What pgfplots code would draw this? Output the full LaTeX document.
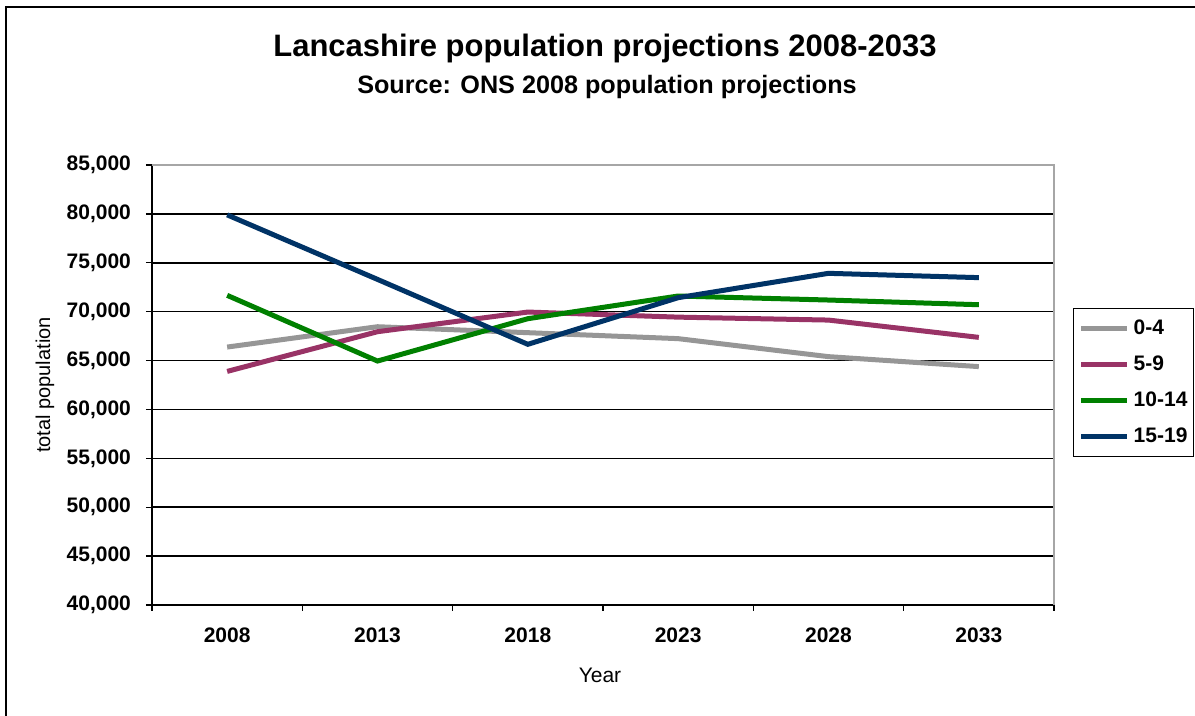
\documentclass[border=0pt]{standalone}
\usepackage{fontspec}
\setmainfont{Liberation Sans}
\usepackage{pgfplots}
\pgfplotsset{compat=1.18}
\definecolor{c04}{HTML}{969696}
\definecolor{c59}{HTML}{993366}
\definecolor{c1014}{HTML}{008000}
\definecolor{c1519}{HTML}{003366}
\begin{document}
\begin{tikzpicture}
\useasboundingbox (-76pt,-55.5pt) rectangle (521.5pt,302.5pt);
\draw[black, line width=1.2pt] (-73pt,-60pt) -- (-73pt,299pt) -- (525pt,299pt);
\begin{axis}[
  at={(0pt,0pt)}, anchor=south west,
  scale only axis, width=451pt, height=220pt,
  xmin=-0.5, xmax=5.5, ymin=40000, ymax=85000,
  xtick={0,...,5},
  xticklabels={2008,2013,2018,2023,2028,2033},
  major x tick style={draw=none},
  minor xtick={-0.5,0.5,1.5,2.5,3.5,4.5,5.5},
  minor tick length=3pt,
  ytick={40000,45000,...,85000},
  major tick length=3pt,
  tick align=outside, tick pos=left,
  tick style={black, line width=0.7pt},
  ymajorgrids, grid style={black, line width=0.75pt},
  axis line style={draw=gray!70, line width=0.6pt},
  separate axis lines,
  x axis line style={draw=black, line width=0.9pt},
  y axis line style={draw=black, line width=0.9pt},
  axis x line*=bottom, axis y line*=left,
  /pgf/number format/assume math mode=true,
  scaled y ticks=false,
  yticklabel={\pgfmathprintnumber[fixed,precision=0,1000 sep={,}]{\tick}},
  ticklabel style={font=\bfseries\fontsize{10.5}{12}\selectfont},
  xticklabel style={yshift=-5pt},
  yticklabel style={xshift=-4pt},
  legend style={at={(1.021,0.675)}, anchor=north west, draw=black, line width=0.6pt,
    font=\bfseries\fontsize{10.5}{12}\selectfont, row sep=5.15pt, inner xsep=2.6pt, inner ysep=3.5pt,
    nodes={inner xsep=0.6pt},
    /tikz/every odd column/.append style={column sep=1.6pt}},
  legend cell align=left,
  legend image code/.code={\draw[#1, line width=2.5pt] (0pt,0pt) -- (22.8pt,0pt);},
  clip=false,
]
\draw[gray!70, line width=0.6pt] (rel axis cs:0,1) -- (rel axis cs:1,1) -- (rel axis cs:1,0);
\addplot[c04, line width=2.5pt] coordinates {(0,66380) (1,68460) (2,67850) (3,67240) (4,65400) (5,64380)};
\addlegendentry{0-4}
\addplot[c59, line width=2.5pt] coordinates {(0,63890) (1,67950) (2,69960) (3,69440) (4,69140) (5,67370)};
\addlegendentry{5-9}
\addplot[c1014, line width=2.5pt] coordinates {(0,71670) (1,64950) (2,69280) (3,71600) (4,71190) (5,70710)};
\addlegendentry{10-14}
\addplot[c1519, line width=2.5pt] coordinates {(0,79900) (1,73300) (2,66660) (3,71430) (4,73920) (5,73480)};
\addlegendentry{15-19}
\end{axis}
\node[font=\bfseries\fontsize{15.5}{18}\selectfont] at (226.5pt,278.5pt) {Lancashire population projections 2008-2033};
\node[font=\bfseries\fontsize{12.6}{15}\selectfont] at (227.5pt,259pt) {Source: ONS 2008 population projections};
\node[font=\fontsize{10.5}{12}\selectfont] at (224pt,-35pt) {Year};
\node[font=\fontsize{10}{12}\selectfont, rotate=90] at (-53.5pt,110pt) {total population};
\end{tikzpicture}
\end{document}
